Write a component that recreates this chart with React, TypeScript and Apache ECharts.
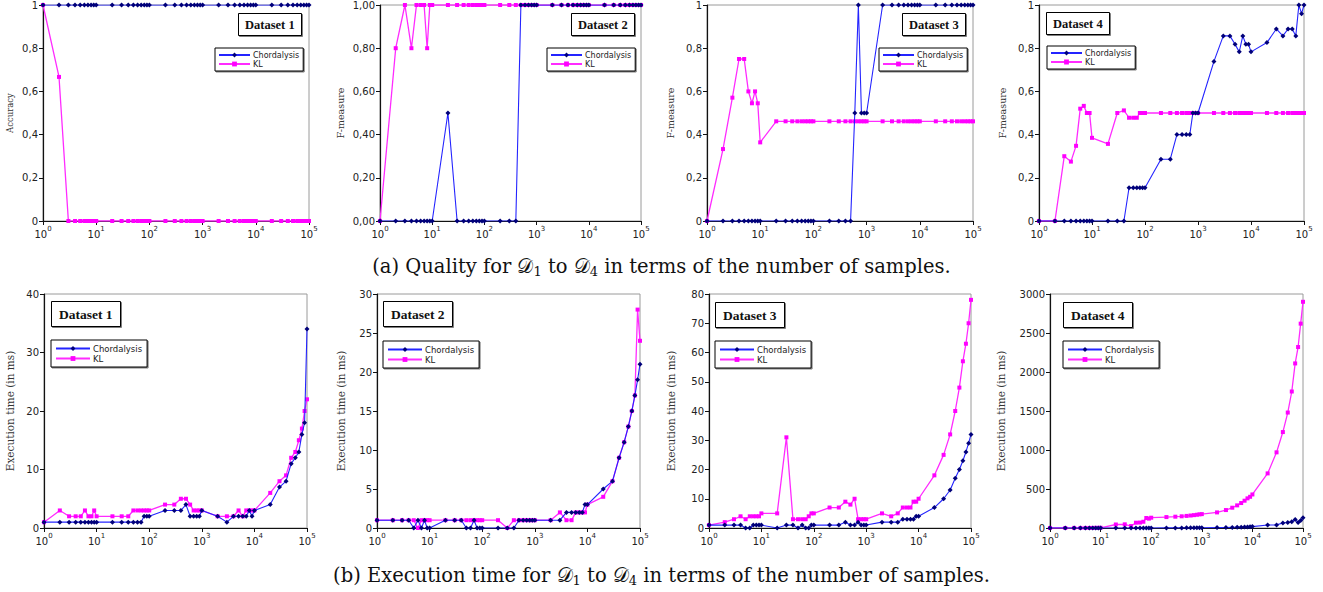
import React, { useEffect, useRef } from "react";
import * as echarts from "echarts";

// ---------- DATA ----------
const samples = [
  1, 2, 3, 4, 5, 6, 7, 8, 9, 10,
  20, 30, 40, 50, 60, 70, 80, 90, 100,
  200, 300, 400, 500, 600, 700, 800, 900, 1000,
  2000, 3000, 4000, 5000, 6000, 7000, 8000, 9000, 10000,
  20000, 30000, 40000, 50000, 60000, 70000, 80000, 90000, 100000,
];

const seriesNames = ["Chordalysis", "KL"];
const datasetTitles = ["Dataset 1", "Dataset 2", "Dataset 3", "Dataset 4"];
const qualityAxisNames = ["Accuracy", "F-measure", "F-measure", "F-measure"];
const timeAxisName = "Execution time (in ms)";
const captionA = ["(a) Quality for ", "𝒟", "1", " to ", "𝒟", "4", " in terms of the number of samples."];
const captionB = ["(b) Execution time for ", "𝒟", "1", " to ", "𝒟", "4", " in terms of the number of samples."];

// Quality (top row)
const q1Chord = [
  1, 1, 1, 1, 1, 1, 1, 1, 1, 1,
  1, 1, 1, 1, 1, 1, 1, 1, 1,
  1, 1, 1, 1, 1, 1, 1, 1, 1,
  1, 1, 1, 1, 1, 1, 1, 1, 1,
  1, 1, 1, 1, 1, 1, 1, 1, 1,
];
const q1KL = [
  1, 0.667, 0, 0, 0, 0, 0, 0, 0, 0,
  0, 0, 0, 0, 0, 0, 0, 0, 0,
  0, 0, 0, 0, 0, 0, 0, 0, 0,
  0, 0, 0, 0, 0, 0, 0, 0, 0,
  0, 0, 0, 0, 0, 0, 0, 0, 0,
];
const q2Chord = [
  0, 0, 0, 0, 0, 0, 0, 0, 0, 0,
  0.5, 0, 0, 0, 0, 0, 0, 0, 0,
  0, 0, 0, 1, 1, 1, 1, 1, 1,
  1, 1, 1, 1, 1, 1, 1, 1, 1,
  1, 1, 1, 1, 1, 1, 1, 1, 1,
];
const q2KL = [
  0, 0.8, 1, 0.8, 1, 1, 1, 0.8, 1, 1,
  1, 1, 1, 1, 1, 1, 1, 1, 1,
  1, 1, 1, 1, 1, 1, 1, 1, 1,
  1, 1, 1, 1, 1, 1, 1, 1, 1,
  1, 1, 1, 1, 1, 1, 1, 1, 1,
];
const q3Chord = [
  0, 0, 0, 0, 0, 0, 0, 0, 0, 0,
  0, 0, 0, 0, 0, 0, 0, 0, 0,
  0, 0, 0, 0, 0.5, 1, 0.5, 0.5, 0.5,
  1, 1, 1, 1, 1, 1, 1, 1, 1,
  1, 1, 1, 1, 1, 1, 1, 1, 1,
];
const q3KL = [
  0, 0.333, 0.571, 0.75, 0.75, 0.6, 0.545, 0.6, 0.545, 0.364,
  0.4615, 0.4615, 0.4615, 0.4615, 0.4615, 0.4615, 0.4615, 0.4615, 0.4615,
  0.4615, 0.4615, 0.4615, 0.4615, 0.4615, 0.4615, 0.4615, 0.4615, 0.4615,
  0.4615, 0.4615, 0.4615, 0.4615, 0.4615, 0.4615, 0.4615, 0.4615, 0.4615,
  0.4615, 0.4615, 0.4615, 0.4615, 0.4615, 0.4615, 0.4615, 0.4615, 0.4615,
];
const q4Chord = [
  0, 0, 0, 0, 0, 0, 0, 0, 0, 0,
  0, 0, 0, 0.154, 0.154, 0.154, 0.154, 0.154, 0.154,
  0.286, 0.286, 0.4, 0.4, 0.4, 0.4, 0.5, 0.5, 0.5,
  0.739, 0.857, 0.857, 0.818, 0.783, 0.857, 0.818, 0.818, 0.783,
  0.826, 0.889, 0.857, 0.889, 0.889, 0.857, 1, 0.96, 1,
];
const q4KL = [
  0, 0, 0.3, 0.275, 0.348, 0.52, 0.533, 0.5, 0.5, 0.385,
  0.357, 0.5, 0.512, 0.478, 0.478, 0.478, 0.5, 0.5, 0.5,
  0.5, 0.5, 0.5, 0.5, 0.5, 0.5, 0.5, 0.5, 0.5,
  0.5, 0.5, 0.5, 0.5, 0.5, 0.5, 0.5, 0.5, 0.5,
  0.5, 0.5, 0.5, 0.5, 0.5, 0.5, 0.5, 0.5, 0.5,
];

// Execution time in ms (bottom row)
const t1Chord = [
  1, 1, 1, 1, 1, 1, 1, 1, 1, 1,
  1, 1, 1, 1, 1, 1, 2, 2, 2,
  3, 3, 3, 4, 2, 2, 2, 2, 3,
  2, 1, 2, 2, 2, 2, 3, 2, 3,
  4, 7, 8, 11, 12, 13, 16, 18, 34,
];
const t1KL = [
  1, 3, 2, 2, 2, 3, 2, 2, 3, 2,
  2, 2, 2, 3, 3, 3, 3, 3, 3,
  4, 4, 5, 5, 4, 3, 3, 3, 3,
  2, 2, 2, 3, 2, 3, 3, 3, 3,
  6, 8, 9, 12, 13, 15, 17, 20, 22,
];
const t2Chord = [
  1, 1, 1, 1, 0, 1, 0, 1, 0, 0,
  1, 1, 1, 0, 0, 1, 0, 0, 0,
  0, 0, 0, 1, 1, 1, 1, 1, 1,
  1, 1, 2, 2, 2, 2, 2, 3, 3,
  5, 6, 9, 11, 13, 15, 17, 19, 21,
];
const t2KL = [
  1, 1, 1, 1, 1, 0, 1, 1, 1, 1,
  1, 1, 1, 1, 1, 1, 1, 1, 1,
  1, 0, 1, 1, 1, 1, 1, 1, 1,
  1, 2, 1, 1, 2, 2, 2, 2, 3,
  4, 6, 9, 11, 13, 15, 17, 28, 24,
];
const t3Chord = [
  1, 1, 1, 1, 0, 0, 1, 1, 1, 1,
  0, 1, 1, 0, 1, 0, 0, 1, 1,
  1, 1, 2, 1, 1, 2, 1, 1, 1,
  2, 2, 2, 3, 3, 3, 3, 4, 4,
  7, 10, 13, 17, 20, 23, 26, 29, 32,
];
const t3KL = [
  1, 2, 3, 4, 3, 4, 4, 4, 4, 5,
  5, 31, 3, 3, 3, 3, 4, 5, 5,
  7, 7, 9, 8, 10, 3, 3, 3, 3,
  5, 4, 5, 7, 7, 7, 9, 9, 10,
  18, 25, 32, 40, 48, 57, 63, 70, 78,
];
const t4Chord = [
  0, 0, 0, 0, 0, 0, 0, 0, 0, 0,
  0, 0, 0, 0, 0, 0, 0, 0, 0,
  1, 1, 1, 2, 2, 2, 2, 2, 3,
  5, 6, 8, 9, 10, 12, 13, 15, 18,
  38, 40, 65, 70, 80, 110, 70, 95, 130,
];
const t4KL = [
  0, 0, 1, 1, 1, 1, 1, 2, 2, 3,
  45, 47, 25, 68, 70, 80, 128, 120, 132,
  140, 145, 150, 155, 160, 165, 170, 175, 178,
  200, 230, 260, 290, 320, 350, 380, 400, 430,
  700, 970, 1230, 1480, 1750, 2110, 2320, 2620, 2900,
];

const qualityChord = [q1Chord, q2Chord, q3Chord, q4Chord];
const qualityKL = [q1KL, q2KL, q3KL, q4KL];
const timeChord = [t1Chord, t2Chord, t3Chord, t4Chord];
const timeKL = [t1KL, t2KL, t3KL, t4KL];
const timeMax = [40, 30, 80, 3000];
const timeStep = [10, 5, 10, 500];

// ---------- LAYOUT ----------
const grids = [
  { left: 43, top: 5, width: 266, height: 216 },
  { left: 380, top: 5, width: 261, height: 216 },
  { left: 707, top: 5, width: 266, height: 216 },
  { left: 1039, top: 5, width: 265, height: 216 },
  { left: 44, top: 294, width: 263, height: 234 },
  { left: 377, top: 294, width: 263, height: 234 },
  { left: 709, top: 294, width: 262, height: 234 },
  { left: 1050, top: 294, width: 253, height: 234 },
];
const titleBoxes = [
  { left: 238, top: 13 }, { left: 571, top: 13 }, { left: 902, top: 13 }, { left: 1046, top: 12 },
  { left: 51, top: 301 }, { left: 383, top: 301 }, { left: 715, top: 302 }, { left: 1063, top: 302 },
];
const legendBoxes = [
  { left: 215, top: 48 }, { left: 547, top: 48 }, { left: 879, top: 48 }, { left: 1047, top: 46 },
  { left: 51, top: 340 }, { left: 383, top: 341 }, { left: 715, top: 341 }, { left: 1063, top: 341 },
];
const nameGaps = [29, 35, 32, 32, 29, 31, 33, 44];

const CHORD_LINE = "#2424ff";
const CHORD_MARK = "#00007a";
const KL_LINE = "#ff2bff";
const KL_MARK = "#ff00ff";

function fmtComma(v: number, digits: number) {
  if (digits === 0) {
    if (v === 0 || v === 1) return String(v);
    return (Math.round(v * 10) / 10).toFixed(1).replace(".", ",");
  }
  return v.toFixed(digits).replace(".", ",");
}

function buildOption() {
  const grid: any[] = [];
  const xAxis: any[] = [];
  const yAxis: any[] = [];
  const series: any[] = [];
  const title: any[] = [];
  const legend: any[] = [];

  for (let i = 0; i < 8; i++) {
    const top = i < 4;
    const k = i % 4;
    grid.push({ ...grids[i], show: true, borderColor: "#9a9a9a", borderWidth: 1, containLabel: false });
    xAxis.push({
      type: "log",
      logBase: 10,
      gridIndex: i,
      min: 1,
      max: 100000,
      splitLine: { show: false },
      axisLine: { show: true, lineStyle: { color: "#111", width: 1.2 } },
      axisTick: { show: true, length: 4, lineStyle: { color: "#111" } },
      minorTick: { show: false },
      axisLabel: {
        margin: 4,
        color: "#222",
        fontFamily: "DejaVu Sans",
        formatter: (v: number) => `{b|10}{s|${Math.round(Math.log10(v))}}`,
        rich: {
          b: { fontSize: 10, fontFamily: "DejaVu Sans", color: "#222", padding: [4, 0, 0, 0] },
          s: { fontSize: 7, fontFamily: "DejaVu Sans", color: "#222", padding: [0, 0, 6, 0] },
        },
      },
    });
    yAxis.push({
      type: "value",
      gridIndex: i,
      min: 0,
      max: top ? 1 : timeMax[k],
      interval: top ? 0.2 : timeStep[k],
      name: top ? qualityAxisNames[k] : timeAxisName,
      nameLocation: "middle",
      nameGap: nameGaps[i],
      nameTextStyle: { fontFamily: "DejaVu Serif", fontSize: top ? (k === 0 ? 8.5 : 9.5) : 10.5, color: "#333" },
      splitLine: { show: false },
      axisLine: { show: true, lineStyle: { color: "#111", width: 1.2 } },
      axisTick: { show: true, length: 4, lineStyle: { color: "#111" } },
      axisLabel: {
        margin: 5,
        fontSize: 10,
        fontFamily: "DejaVu Sans",
        color: "#222",
        formatter: (v: number) => (top ? fmtComma(v, k === 1 ? 2 : 0) : String(v)),
      },
    });
    const chord = top ? qualityChord[k] : timeChord[k];
    const kl = top ? qualityKL[k] : timeKL[k];
    series.push({
      name: seriesNames[1],
      type: "line",
      xAxisIndex: i,
      yAxisIndex: i,
      data: samples.map((x, j) => [x, kl[j]]),
      symbol: "rect",
      symbolSize: 4,
      showSymbol: true,
      lineStyle: { color: KL_LINE, width: 1.3 },
      itemStyle: { color: KL_MARK },
      z: 2,
    });
    series.push({
      name: seriesNames[0],
      type: "line",
      xAxisIndex: i,
      yAxisIndex: i,
      data: samples.map((x, j) => [x, chord[j]]),
      symbol: "diamond",
      symbolSize: 5,
      showSymbol: true,
      lineStyle: { color: CHORD_LINE, width: 1.1 },
      itemStyle: { color: CHORD_MARK },
      z: 3,
    });
    title.push({
      text: datasetTitles[k],
      ...titleBoxes[i],
      borderColor: "#000",
      borderWidth: 1,
      padding: top ? [5, 7, 5, 7] : [6, 8, 6, 8],
      shadowColor: "rgba(0,0,0,0.5)",
      shadowOffsetX: 1,
      shadowOffsetY: 1,
      shadowBlur: 0,
      backgroundColor: "#fff",
      textStyle: { fontFamily: "Liberation Serif", fontWeight: "bold", fontSize: top ? 12.5 : 13.5, color: "#111" },
    });
    legend.push({
      data: seriesNames,
      ...legendBoxes[i],
      orient: "vertical",
      borderColor: "#000",
      borderWidth: 1,
      padding: top ? [3, 4, 3, 3] : [4, 5, 4, 4],
      itemGap: 1,
      itemWidth: top ? 31 : 34,
      itemHeight: 6,
      selectedMode: false,
      backgroundColor: "#fff",
      shadowColor: "rgba(0,0,0,0.5)",
      shadowOffsetX: 1,
      shadowOffsetY: 1,
      textStyle: { fontFamily: "DejaVu Sans", fontSize: top ? 8 : 8.5, color: "#222", padding: [0, 0, 0, -2] },
    });
  }

  const capRich = {
    a: { fontFamily: "DejaVu Serif", fontSize: 19.5, fontWeight: "normal", color: "#111" },
    d: { fontFamily: "DejaVu Serif", fontSize: 19.5, fontWeight: "normal", color: "#111" },
    s: { fontFamily: "DejaVu Serif", fontSize: 13, fontWeight: "normal", color: "#111", padding: [11, 0, 0, 0] },
  };
  const capText = (c: string[]) =>
    `{a|${c[0]}}{d|${c[1]}}{s|${c[2]}}{a|${c[3]}}{d|${c[4]}}{s|${c[5]}}{a|${c[6]}}`;
  title.push({ text: capText(captionA), left: "center", top: 254, padding: 0, textStyle: { fontWeight: "normal", rich: capRich } });
  title.push({ text: capText(captionB), left: "center", top: 563, padding: 0, textStyle: { fontWeight: "normal", rich: capRich } });

  return { animation: false, backgroundColor: "#fff", grid, xAxis, yAxis, series, title, legend, tooltip: { show: false } };
}

export default function App() {
  const ref = useRef<HTMLDivElement>(null);
  useEffect(() => {
    document.body.style.margin = "0";
    if (!ref.current) return;
    const chart = echarts.init(ref.current, undefined, { renderer: "svg" });
    chart.setOption(buildOption() as any);
    return () => chart.dispose();
  }, []);
  return (
    <div style={{ position: "absolute", left: 0, top: 0, width: 1323, height: 592, overflow: "hidden" }}>
      <div ref={ref} style={{ width: 1323, height: 592, background: "#fff" }} />
    </div>
  );
}
